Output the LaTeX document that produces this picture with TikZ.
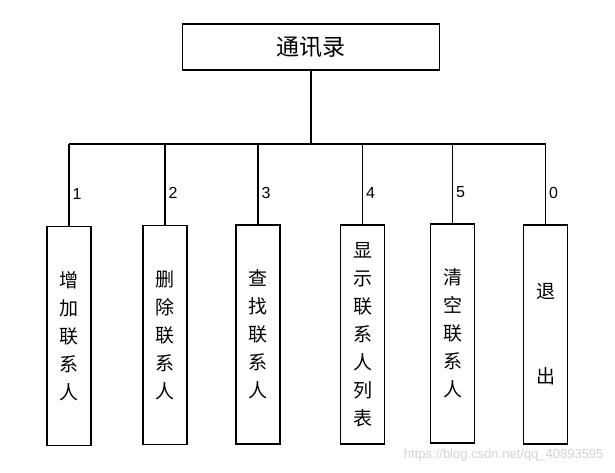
\documentclass[tikz,border=0pt]{standalone}
\usepackage{fontspec}
\setmainfont{Liberation Sans}
\newfontfamily\cjk{Noto Sans CJK SC}
\usetikzlibrary{positioning}

\begin{document}
\begin{tikzpicture}[x=1pt,y=-1pt,
    box/.style={draw,rectangle,line width=1.1pt,outer sep=0pt,inner sep=0pt},
    item/.style={box,minimum width=44pt,minimum height=219pt,align=center,font=\cjk\fontsize{19}{28}\selectfont},
    num/.style={right,inner sep=3pt,font=\fontsize{16}{16}\selectfont}]

        \useasboundingbox (0,0) rectangle (615,473);

        \node [box, minimum width=257pt, minimum height=46pt, font=\cjk\fontsize{23}{23}\selectfont] (top) at (311,47) {通讯录};

        \node [item] (add) at (69,336) {增\\加\\联\\系\\人};
        \node [item] (del) at (165,335) {删\\除\\联\\系\\人};
        \node [item] (find) at (258,334.5) {查\\找\\联\\系\\人};
        \node [item] (show) at (362.5,334.5) {显\\示\\联\\系\\人\\列\\表};
        \node [item] (clear) at (452.5,333.5) {清\\空\\联\\系\\人};
        \node [item] (quit) at (545.5,334.5) {退\\[57pt]出};

        \coordinate (bus) at (311,144);

          \draw [line width=1.1pt] (top.south) -- (bus);
          \draw [line width=1.1pt] (add.north |- bus) -- (quit.north |- bus);
          \draw [line width=1.1pt] (add.north |- bus) -- node [num, pos=0.6] {1} (add.north);
          \draw [line width=1.1pt] (del.north |- bus) -- node [num, pos=0.6] {2} (del.north);
          \draw [line width=1.1pt] (find.north |- bus) -- node [num, pos=0.6] {3} (find.north);
          \draw [line width=1.1pt] (show.north |- bus) -- node [num, pos=0.6] {4} (show.north);
          \draw [line width=1.1pt] (clear.north |- bus) -- node [num, pos=0.6] {5} (clear.north);
          \draw [line width=1.1pt] (quit.north |- bus) -- node [num, pos=0.6] {0} (quit.north);

        \node [anchor=east, text=gray!35, font=\fontsize{13}{13}\selectfont] (mark) at (607,455) {https://blog.csdn.net/qq\_40893595};
        \end{tikzpicture}
\end{document}
